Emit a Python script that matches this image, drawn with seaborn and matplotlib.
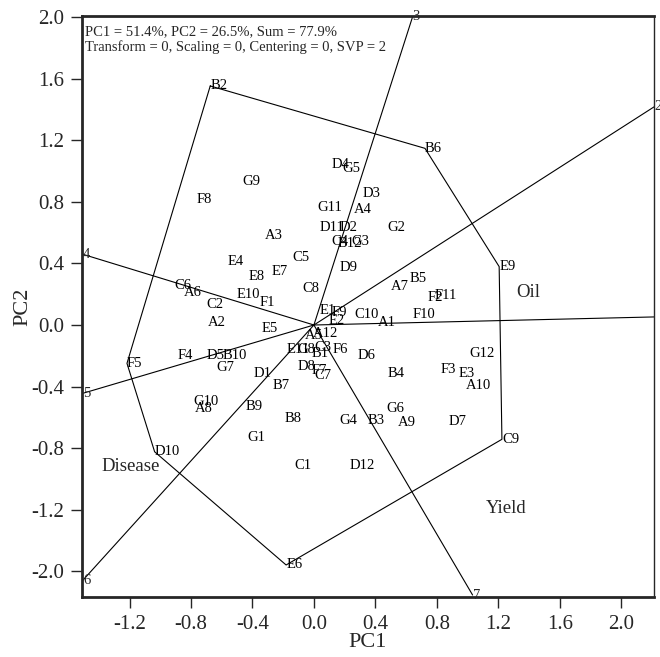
import numpy as np
import pandas as pd
import seaborn as sns
import matplotlib.pyplot as plt

# genotype scores (PC1, PC2)
genotypes = ["G9", "F8", "A3", "E4", "C5", "E8", "E7", "C6", "A6", "E10", "F1", "C2", "C8", "A2", "E5",
             "G11", "D11", "D2", "D4", "G5", "D3", "A4", "G2", "C4", "B12", "G3", "D9", "B5", "A7",
             "F2", "F11", "F10", "C10", "A1", "E1", "F9", "E2",
             "F4", "D5", "B10", "G7", "D1", "B7", "G10", "A8", "B9", "B8", "G1", "C1", "E11",
             "A5", "A12", "G8", "C3", "B1", "F6", "D8", "F7", "C7",
             "D6", "B4", "G12", "F3", "E3", "A10", "G6", "G4", "B3", "A9", "D7", "D12",
             "B2", "B6", "E9", "C9", "E6", "D10", "F5"]
pc1 = [-0.463, -0.766, -0.322, -0.560, -0.138, -0.424, -0.278, -0.907, -0.847, -0.506, -0.354, -0.697, -0.073, -0.691, -0.343,
       0.025, 0.036, 0.166, 0.112, 0.187, 0.317, 0.263, 0.480, 0.112, 0.155, 0.247, 0.166, 0.621, 0.502,
       0.740, 0.787, 0.642, 0.263, 0.415, 0.039, 0.112, 0.094,
       -0.886, -0.701, -0.593, -0.636, -0.393, -0.268, -0.783, -0.777, -0.447, -0.192, -0.430, -0.127, -0.181,
       -0.062, -0.010, -0.107, 0.003, -0.018, 0.120, -0.105, -0.018, 0.003,
       0.285, 0.480, 1.011, 0.822, 0.941, 0.990, 0.469, 0.166, 0.350, 0.545, 0.875, 0.235,
       -0.675, 0.723, 1.206, 1.224, -0.181, -1.037, -1.217]
pc2 = [0.931, 0.812, 0.584, 0.411, 0.438, 0.318, 0.346, 0.255, 0.211, 0.201, 0.146, 0.130, 0.234, 0.019, -0.021,
       0.763, 0.630, 0.630, 1.045, 1.018, 0.851, 0.753, 0.630, 0.539, 0.532, 0.545, 0.373, 0.305, 0.249,
       0.179, 0.190, 0.071, 0.065, 0.016, 0.091, 0.084, 0.032,
       -0.200, -0.200, -0.200, -0.273, -0.318, -0.390, -0.494, -0.539, -0.532, -0.604, -0.731, -0.909, -0.156,
       -0.071, -0.058, -0.156, -0.149, -0.188, -0.156, -0.271, -0.297, -0.325,
       -0.200, -0.318, -0.187, -0.286, -0.314, -0.395, -0.539, -0.622, -0.622, -0.633, -0.628, -0.914,
       1.552, 1.147, 0.379, -0.742, -1.558, -0.823, -0.249]

# vertex genotypes of the which-won-where polygon
hull = ["B2", "B6", "E9", "C9", "E6", "D10", "F5"]

# environment rays perpendicular to polygon sides
env_names = ["1", "2", "3", "4", "5", "6", "7"]
env_pc1 = [2.45, 2.214, 0.642, -1.507, -1.503, -1.503, 1.033]
env_pc2 = [0.058, 1.416, 2.0, 0.46, -0.443, -1.656, -1.753]

sectors = ["Oil", "Disease", "Yield"]
sector_pos = {"Oil": (1.32, 0.214), "Disease": (-1.385, -0.92), "Yield": (1.12, -1.19)}

yticks = [2.0, 1.6, 1.2, 0.8, 0.4, 0.0, -0.4, -0.8, -1.2, -1.6]
yticklabels = ["2.0", "1.6", "1.2", "0.8", "0.4", "0.0", "-0.4", "-0.8", "-1.2", "-2.0"]
xticks = [-1.2, -0.8, -0.4, 0.0, 0.4, 0.8, 1.2, 1.6, 2.0]

sns.set_style("ticks")
plt.rcParams['font.family'] = ['Liberation Serif', 'DejaVu Serif']

geno = pd.DataFrame({"name": genotypes, "PC1": pc1, "PC2": pc2}).set_index("name")
poly = geno.loc[hull + hull[:1]].reset_index()
rays = pd.DataFrame({
    "env": np.repeat(env_names, 2),
    "PC1": np.ravel([[0, x] for x in env_pc1]),
    "PC2": np.ravel([[0, y] for y in env_pc2]),
})

fig = plt.figure(figsize=(6.6, 6.57), dpi=100)
ax = fig.add_axes([0.1242, 0.0913, 0.8667, 0.8843])

sns.lineplot(data=rays, x="PC1", y="PC2", units="env", estimator=None, sort=False,
             color="black", lw=0.8, ax=ax)
sns.lineplot(data=poly, x="PC1", y="PC2", estimator=None, sort=False,
             color="black", lw=0.8, ax=ax)

for name, row in geno.iterrows():
    ax.text(row.PC1, row.PC2, name, fontsize=10.5, ha="left", va="center", color="black")

for n, x, y in zip(env_names, env_pc1, env_pc2):
    ax.text(x, y, n, fontsize=10.5, ha="left", va="center", clip_on=(n == "1"))

for s in sectors:
    ax.text(*sector_pos[s], s, fontsize=13.5, ha="left", va="center")

ax.text(0.005, 0.973, "PC1 = 51.4%, PC2 = 26.5%, Sum = 77.9%", transform=ax.transAxes,
        fontsize=10.5, ha="left", va="center")
ax.text(0.005, 0.947, "Transform = 0, Scaling = 0, Centering = 0, SVP = 2", transform=ax.transAxes,
        fontsize=10.5, ha="left", va="center")

ax.set_xlim(-1.51, 2.214)
ax.set_ylim(-1.766, 2.006)
ax.set_xticks(xticks)
ax.set_xticklabels([f"{t:.1f}" for t in xticks])
ax.set_yticks(yticks)
ax.set_yticklabels(yticklabels)
ax.tick_params(direction="out", length=8, width=1, labelsize=15, pad=5)
ax.set_xlabel("PC1", fontsize=16, labelpad=-1)
ax.set_ylabel("PC2", fontsize=16, labelpad=-1)
for side in ["left", "bottom", "top"]:
    ax.spines[side].set_linewidth(2)
ax.spines["right"].set_linewidth(1)

fig.savefig("out.png", dpi=100)
